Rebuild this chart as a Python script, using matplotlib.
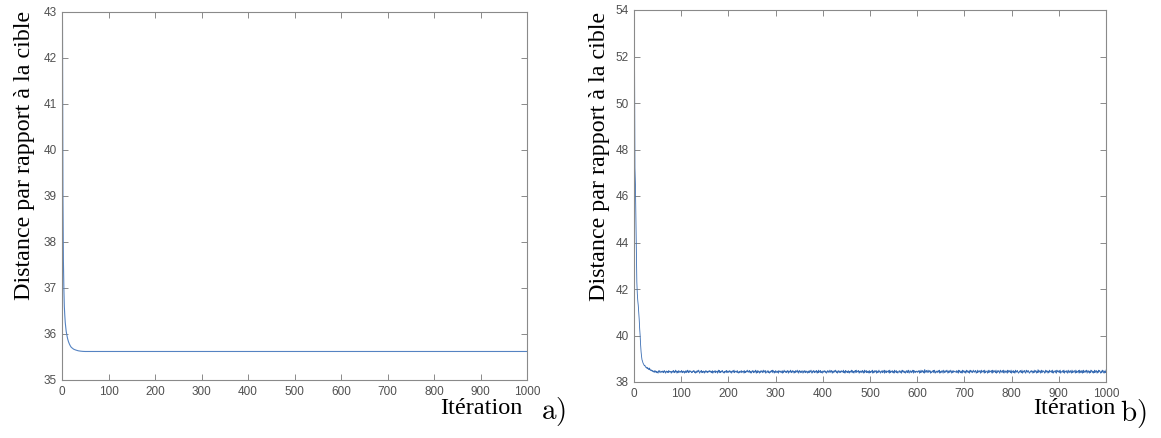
import numpy as np
import matplotlib
matplotlib.use("Agg")
import matplotlib.pyplot as plt

# ---------------- data ----------------
# Panel a: distance vs iteration (smooth convergence)
iter_a = [1, 2, 3, 4, 5, 6, 7, 8, 9, 10, 12, 14, 16, 18, 20, 25, 30, 35, 40, 45, 50, 1000]
dist_a = [42.8, 39.0, 37.6, 37.0, 36.6, 36.4, 36.25, 36.15, 36.06, 36.0, 35.9, 35.83,
          35.78, 35.74, 35.71, 35.67, 35.65, 35.635, 35.627, 35.622, 35.62, 35.62]

# Panel b: early phase (iterations 1..40)
dist_b_early = [52.7, 47.2, 46.5, 45.0, 43.5, 42.3, 41.8, 41.5, 41.3, 41.0,
                40.7, 40.3, 40.0, 39.6, 39.3, 39.1, 38.95, 38.9, 38.82, 38.78,
                38.75, 38.7, 38.72, 38.66, 38.63, 38.64, 38.6, 38.58, 38.62, 38.56,
                38.57, 38.53, 38.6, 38.52, 38.5, 38.53, 38.48, 38.5, 38.46, 38.49]
# Panel b: plateau (iterations 41..1000), each digit d -> 38.36 + 0.019*d
plateau_b_digits = (
    "4537462534157364254635274513645273645315"
    "3647253846153724635472536415372648253746"
    "5243657341526374851364725364153746253647"
    "4635271546372546138472536475241536472563"
    "3746251647382546357241536427354617253648"
    "5364725136472536481527364153746258364712"
    "4637251436572846153724635174536427153846"
    "3526471536482537461527364835174625374163"
    "4725364153726485136472536471528364725316"
    "5374625137462583647152637485261473625374"
    "4638251746352741536482735164728356471536"
    "3627451836472536417253648152736471526384"
    "5146372548163725463718254637251846372514"
    "4736251847362514736285147362548173625463"
    "3647152836472519364725836471523647285136"
    "5263748152637418526374851627348516273645"
    "4372651847326518473625184736251847362584"
    "3657142836547128365471823654172836457218"
    "5374628143756218534762814735621853746281"
    "4637251846375214637528146375218463752146"
    "3746152834761529374615823746512837461528"
    "4563728145637218546372815436728154637218"
    "5263741826357418265347182653714826537481"
    "4736152874361528437615284763152847316528"
)
plateau_base = 38.36
plateau_step = 0.019

x_ticks = [0, 100, 200, 300, 400, 500, 600, 700, 800, 900, 1000]
y_ticks_a = [35, 36, 37, 38, 39, 40, 41, 42, 43]
y_ticks_b = [38, 40, 42, 44, 46, 48, 50, 52, 54]

ylabel_text = "Distance par rapport à la cible"
xlabel_text = "Itération"

# ---------------- build ----------------
dist_b = list(dist_b_early) + [plateau_base + plateau_step * int(c) for c in plateau_b_digits]
iter_b = np.arange(1, len(dist_b) + 1)

W, H = 1161, 438
fig = plt.figure(figsize=(W / 100, H / 100), dpi=100)

line_color_a = "#5583c2"
line_color_b = "#3a6db3"
spine_color = "#8a8a8a"
tick_label_color = "#505050"
sans = ["Liberation Sans", "DejaVu Sans"]
serif = ["Liberation Serif", "DejaVu Serif"]


def px(x0, y0, x1, y1):
    return [x0 / W, 1 - y1 / H, (x1 - x0) / W, (y1 - y0) / H]


def style(ax, yticks):
    ax.set_xlim(0, 1000)
    ax.set_xticks(x_ticks)
    ax.set_yticks(yticks)
    ax.set_ylim(yticks[0], yticks[-1])
    for s in ax.spines.values():
        s.set_color(spine_color)
        s.set_linewidth(0.8)
    ax.tick_params(direction="in", length=4, width=0.7, color=spine_color,
                   top=True, right=True, labelsize=8.5, labelcolor=tick_label_color, pad=4)
    for lab in ax.get_xticklabels() + ax.get_yticklabels():
        lab.set_family(sans)


ax1 = fig.add_axes(px(62, 12, 527, 380))
ax1.plot(iter_a, dist_a, color=line_color_a, lw=0.8)
style(ax1, y_ticks_a)

ax2 = fig.add_axes(px(634, 10, 1106, 382))
ax2.plot(iter_b, dist_b, color=line_color_b, lw=0.6)
style(ax2, y_ticks_b)

# y labels
fig.text(25 / W, 1 - 155 / H, ylabel_text, rotation=90, ha="center", va="center",
         family=serif, fontsize=17.3)
fig.text(599 / W, 1 - 156 / H, ylabel_text, rotation=90, ha="center", va="center",
         family=serif, fontsize=17.3)
# x labels
fig.text(481 / W, 1 - 408 / H, xlabel_text, ha="center", va="center", family=serif, fontsize=17.5)
fig.text(1074 / W, 1 - 408 / H, xlabel_text, ha="center", va="center", family=serif, fontsize=17.5)
# panel letters
fig.text(553 / W, 1 - 411 / H, r"$\mathrm{a)}$", ha="center", va="center", fontsize=21,
         math_fontfamily="cm")
fig.text(1133 / W, 1 - 414 / H, r"$\mathrm{b)}$", ha="center", va="center", fontsize=21,
         math_fontfamily="cm")

fig.savefig("out.png", dpi=100)
